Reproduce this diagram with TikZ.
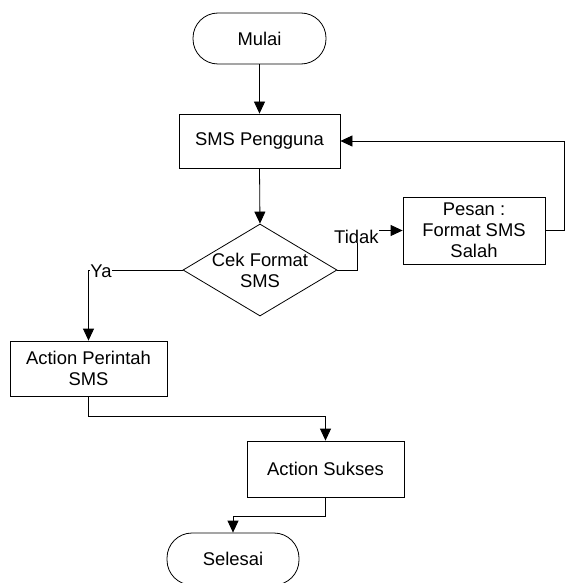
\documentclass[tikz,border=0pt]{standalone}
\usepackage{fontspec}
\setmainfont{Liberation Sans}
\usetikzlibrary{arrows.meta,shapes.geometric}
\begin{document}
\begin{tikzpicture}[x=1pt,y=-1pt,
  every node/.style={font=\fontsize{18.4}{21}\selectfont},
  line/.style={draw, line width=0.8pt},
  arr/.style={line, -{Triangle[length=12pt,width=11pt]}},
  terminal/.style={draw, line width=0.8pt, rounded corners=25pt, inner sep=0pt},
  procbox/.style={draw, line width=0.8pt, align=center, inner sep=0pt},
  decision/.style={draw, line width=0.8pt, diamond, inner sep=0pt},
  lbl/.style={fill=white, inner xsep=0.5pt, inner ysep=0pt}
]
\useasboundingbox (0,0) rectangle (565,583);
\node[terminal, minimum width=133pt, minimum height=51pt] (mulai) at (259.5,38.5) {Mulai};
\node[procbox, minimum width=161pt, minimum height=54pt] (sms) at (259.5,141) {SMS Pengguna};
\node[decision, minimum width=154pt, minimum height=92pt,
  label={[align=center, font=\fontsize{18.4}{21}\selectfont]center:Cek Format\\SMS}] (cek) at (260,270) {};
\node[procbox, minimum width=142pt, minimum height=67pt] (pesan) at (474,230.5) {Pesan :\\Format SMS\\Salah};
\node[procbox, minimum width=157pt, minimum height=55pt] (aksi) at (88.5,368.5) {Action Perintah\\SMS};
\node[procbox, minimum width=157pt, minimum height=56pt] (sukses) at (325.5,469) {Action Sukses};
\node[terminal, minimum width=132pt, minimum height=52pt] (selesai) at (233,559) {Selesai};

\draw[arr] (mulai.south) -- (sms.north);
\draw[arr] (sms.south) -- (cek.north);
\draw[arr] (cek.east) -- ++(20,0) |- node[lbl, pos=0.5, anchor=base, yshift=-12.5pt, xshift=-1pt, text height=18pt] {Tidak} (pesan.west);
\draw[arr] (pesan.east) -- ++(19,0) |- (sms.east);
\draw[arr] (cek.west) -| node[lbl, pos=0.5, anchor=west, xshift=1pt, yshift=-1pt] {Ya} (aksi.north);
\draw[arr] (aksi.south) -- ++(0,20) -| (sukses.north);
\draw[arr] (sukses.south) -- ++(0,19) -| (selesai.north);
\end{tikzpicture}
\end{document}
